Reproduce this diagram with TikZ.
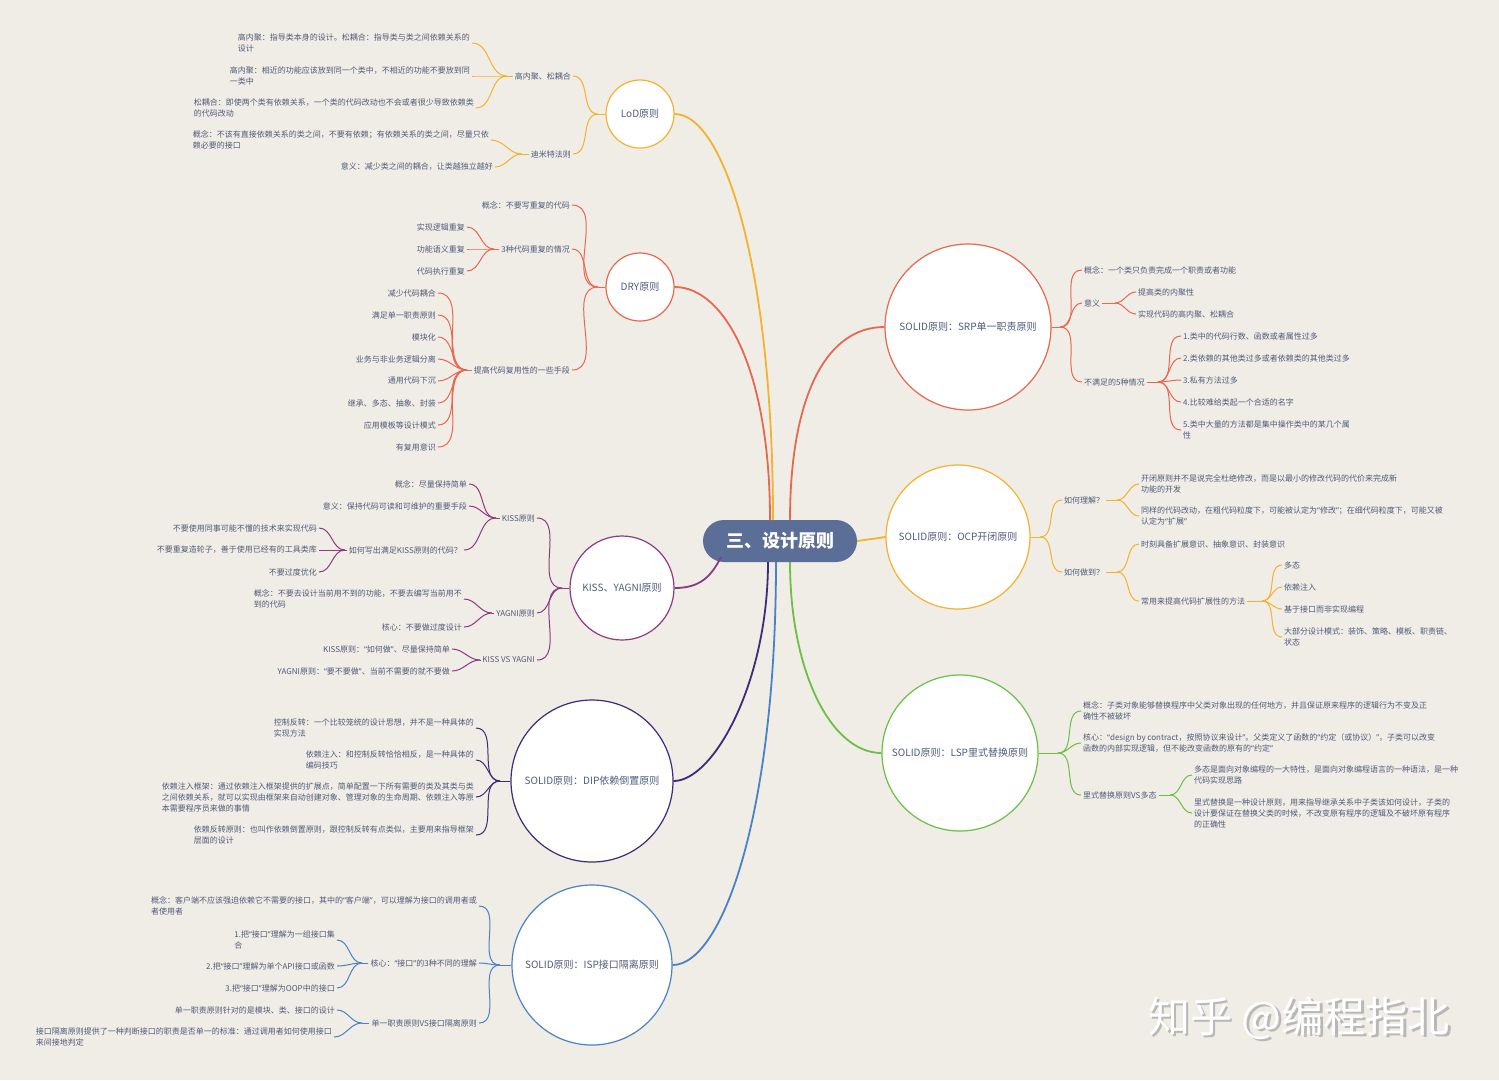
\documentclass[tikz,border=0pt]{standalone}
\usepackage{fontspec}
\setmainfont{Noto Sans CJK SC}
\newfontfamily\quotefont{Noto Sans}
\usetikzlibrary{calc}

\definecolor{bg}{HTML}{F0ECE6}
\definecolor{ink}{HTML}{505C7A}
\definecolor{rootblue}{HTML}{5B6E98}
\definecolor{cyel}{HTML}{F2B32E}
\definecolor{cred}{HTML}{E8674F}
\definecolor{cpur}{HTML}{8E3A80}
\definecolor{cdip}{HTML}{3D2B78}
\definecolor{cblu}{HTML}{4A82C6}
\definecolor{cgrn}{HTML}{6CBF45}

\newcommand{\cq}[1]{{\quotefont“}#1{\quotefont”}}

\tikzset{
  topic/.style={circle, draw=#1, fill=white, line width=1.2pt, text=ink, font=\fontsize{10}{12}\selectfont, inner sep=0pt},
  leaf/.style={text=ink, font=\fontsize{8}{11}\selectfont, inner sep=2pt, align=left},
  lleaf/.style={leaf, anchor=east},
  rleaf/.style={leaf, anchor=west},
  trunk/.style={draw=#1, line width=1.8pt},
  twig/.style={draw=#1, line width=1pt},
}

\begin{document}
\begin{tikzpicture}[x=1pt,y=1pt]
\fill[bg] (0,0) rectangle (1499,-1080);
\useasboundingbox (0,0) rectangle (1499,-1080);

\node[fill=rootblue, rounded corners=21pt, minimum width=154pt, minimum height=42pt, text=white, font=\fontsize{18}{20}\selectfont\bfseries] (root) at (780,-541) {三、设计原则};

\node[topic=cyel, minimum size=68pt] (lod) at (640,-114) {LoD原则};
\node[topic=cred, minimum size=68pt] (dry) at (640,-287) {DRY原则};
\node[topic=cpur, minimum size=104pt] (kiss) at (622,-588) {KISS、YAGNI原则};
\node[topic=cdip, minimum size=162pt] (dip) at (592,-781) {SOLID原则：DIP依赖倒置原则};
\node[topic=cblu, minimum size=160pt] (isp) at (592,-965) {SOLID原则：ISP接口隔离原则};
\node[topic=cred, minimum size=166pt] (srp) at (968,-327) {SOLID原则：SRP单一职责原则};
\node[topic=cyel, minimum size=144pt] (ocp) at (958,-537) {SOLID原则：OCP开闭原则};
\node[topic=cgrn, minimum size=156pt] (lsp) at (960,-753) {SOLID原则：LSP里式替换原则};

\draw[trunk=cyel] (773,-520) .. controls +(0,250) and +(50,0) .. (lod.east);
\draw[trunk=cred] (770,-520) .. controls +(0,150) and +(50,0) .. (dry.east);
\draw[trunk=cred] (790,-520) .. controls +(0,120) and +(-60,0) .. (srp.west);
\draw[trunk=cyel] (root.east) -- (ocp.west);
\draw[trunk=cpur] (721,-557) .. controls +(-10,-20) and +(25,0) .. (kiss.east);
\draw[trunk=cdip] (768,-562) .. controls +(0,-120) and +(40,0) .. (dip.east);
\draw[trunk=cblu] (776,-562) .. controls +(0,-250) and +(50,0) .. (isp.east);
\draw[trunk=cgrn] (790,-562) .. controls +(0,-110) and +(-50,0) .. (lsp.west);

% LoD
\node[lleaf] (lodA) at (573,-76) {高内聚、松耦合};
\node[lleaf] (lodB) at (573,-154) {迪米特法则};
\node[lleaf] (lodA1) at (472,-43) {高内聚：指导类本身的设计。松耦合：指导类与类之间依赖关系的\\设计};
\node[lleaf] (lodA2) at (472,-76) {高内聚：相近的功能应该放到同一个类中，不相近的功能不要放到同\\一类中};
\node[lleaf] (lodA3) at (476,-108) {松耦合：即使两个类有依赖关系，一个类的代码改动也不会或者很少导致依赖类\\的代码改动};
\node[lleaf] (lodB1) at (491,-140) {概念：不该有直接依赖关系的类之间，不要有依赖；有依赖关系的类之间，尽量只依\\赖必要的接口};
\node[lleaf] (lodB2) at (495,-167) {意义：减少类之间的耦合，让类越独立越好};
\coordinate (jlod) at (598,-114);
\coordinate (jlodA) at (507,-76);
\coordinate (jlodB) at (522,-154);
\draw[twig=cyel] (lod.west) -- (jlod);
\foreach \c in {lodA,lodB} \draw[twig=cyel] (jlod) to[out=180,in=0] (\c.east);
\draw[twig=cyel] (lodA.west) -- (jlodA);
\foreach \c in {lodA1,lodA2,lodA3} \draw[twig=cyel] (jlodA) to[out=180,in=0] (\c.east);
\draw[twig=cyel] (lodB.west) -- (jlodB);
\foreach \c in {lodB1,lodB2} \draw[twig=cyel] (jlodB) to[out=180,in=0] (\c.east);

% DRY
\node[lleaf] (dryA) at (572,-205) {概念：不要写重复的代码};
\node[lleaf] (dryB) at (572,-249) {3种代码重复的情况};
\node[lleaf] (dryC) at (572,-370) {提高代码复用性的一些手段};
\node[lleaf] (dryB1) at (467,-227) {实现逻辑重复};
\node[lleaf] (dryB2) at (467,-249) {功能语义重复};
\node[lleaf] (dryB3) at (467,-271) {代码执行重复};
\foreach \t [count=\i] in {减少代码耦合,满足单一职责原则,模块化,业务与非业务逻辑分离,通用代码下沉,继承、多态、抽象、封装,应用模板等设计模式,有复用意识}
  \node[lleaf] (dryC\i) at (438,-271-22*\i) {\t};
\coordinate (jdry) at (598,-287);
\coordinate (jdryB) at (494,-249);
\coordinate (jdryC) at (467,-370);
\draw[twig=cred] (dry.west) -- (jdry);
\foreach \c in {dryA,dryB,dryC} \draw[twig=cred] (jdry) to[out=180,in=0] (\c.east);
\draw[twig=cred] (dryB.west) -- (jdryB);
\foreach \c in {dryB1,dryB2,dryB3} \draw[twig=cred] (jdryB) to[out=180,in=0] (\c.east);
\draw[twig=cred] (dryC.west) -- (jdryC);
\foreach \i in {1,...,8} \draw[twig=cred] (jdryC) to[out=180,in=0] (dryC\i.east);

% KISS, YAGNI
\node[lleaf] (kissA) at (537,-518) {KISS原则};
\node[lleaf] (kissB) at (537,-613) {YAGNI原则};
\node[lleaf] (kissC) at (537,-660) {KISS VS YAGNI};
\node[lleaf] (kissA1) at (469,-484) {概念：尽量保持简单};
\node[lleaf] (kissA2) at (469,-506) {意义：保持代码可读和可维护的重要手段};
\node[lleaf] (kissA3) at (464,-550) {如何写出满足KISS原则的代码？};
\node[lleaf] (kissA31) at (319,-528) {不要使用同事可能不懂的技术来实现代码};
\node[lleaf] (kissA32) at (319,-550) {不要重复造轮子，善于使用已经有的工具类库};
\node[lleaf] (kissA33) at (319,-572) {不要过度优化};
\node[lleaf] (kissB1) at (464,-599) {概念：不要去设计当前用不到的功能，不要去编写当前用不\\到的代码};
\node[lleaf] (kissB2) at (464,-627) {核心：不要做过度设计};
\node[lleaf] (kissC1) at (452,-649) {KISS原则：\cq{如何做}、尽量保持简单};
\node[lleaf] (kissC2) at (452,-671) {YAGNI原则：\cq{要不要做}、当前不需要的就不要做};
\coordinate (jkiss) at (562,-588);
\coordinate (jkissA) at (496,-518);
\coordinate (jkissA3) at (345,-550);
\coordinate (jkissB) at (492,-613);
\coordinate (jkissC) at (480,-660);
\draw[twig=cpur] (kiss.west) -- (jkiss);
\foreach \c in {kissA,kissB,kissC} \draw[twig=cpur] (jkiss) to[out=180,in=0] (\c.east);
\draw[twig=cpur] (kissA.west) -- (jkissA);
\foreach \c in {kissA1,kissA2,kissA3} \draw[twig=cpur] (jkissA) to[out=180,in=0] (\c.east);
\draw[twig=cpur] (kissA3.west) -- (jkissA3);
\foreach \c in {kissA31,kissA32,kissA33} \draw[twig=cpur] (jkissA3) to[out=180,in=0] (\c.east);
\draw[twig=cpur] (kissB.west) -- (jkissB);
\foreach \c in {kissB1,kissB2} \draw[twig=cpur] (jkissB) to[out=180,in=0] (\c.east);
\draw[twig=cpur] (kissC.west) -- (jkissC);
\foreach \c in {kissC1,kissC2} \draw[twig=cpur] (jkissC) to[out=180,in=0] (\c.east);

% DIP
\node[lleaf] (dip1) at (476,-728) {控制反转：一个比较笼统的设计思想，并不是一种具体的\\实现方法};
\node[lleaf] (dip2) at (476,-760) {依赖注入：和控制反转恰恰相反，是一种具体的\\编码技巧};
\node[lleaf] (dip3) at (476,-797) {依赖注入框架：通过依赖注入框架提供的扩展点，简单配置一下所有需要的类及其类与类\\之间依赖关系，就可以实现由框架来自动创建对象、管理对象的生命周期、依赖注入等原\\本需要程序员来做的事情};
\node[lleaf] (dip4) at (476,-835) {依赖反转原则：也叫作依赖倒置原则，跟控制反转有点类似，主要用来指导框架\\层面的设计};
\coordinate (jdip) at (500,-781);
\draw[twig=cdip] (dip.west) -- (jdip);
\foreach \c in {dip1,dip2,dip3,dip4} \draw[twig=cdip] (jdip) to[out=180,in=0] (\c.east);

% ISP
\node[lleaf] (isp1) at (479,-906) {概念：客户端不应该强迫依赖它不需要的接口，其中的\cq{客户端}，可以理解为接口的调用者或\\者使用者};
\node[lleaf] (isp2) at (479,-963) {核心：\cq{接口}的3种不同的理解};
\node[lleaf] (isp3) at (479,-1023) {单一职责原则VS接口隔离原则};
\node[lleaf] (isp21) at (337,-940) {1.把\cq{接口}理解为一组接口集\\合};
\node[lleaf] (isp22) at (337,-966) {2.把\cq{接口}理解为单个API接口或函数};
\node[lleaf] (isp23) at (337,-988) {3.把\cq{接口}理解为OOP中的接口};
\node[lleaf] (isp31) at (337,-1010) {单一职责原则针对的是模块、类、接口的设计};
\node[lleaf] (isp32) at (334,-1037) {接口隔离原则提供了一种判断接口的职责是否单一的标准：通过调用者如何使用接口\\来间接地判定};
\coordinate (jisp) at (500,-965);
\coordinate (jisp2) at (362,-963);
\coordinate (jisp3) at (362,-1023);
\draw[twig=cblu] (isp.west) -- (jisp);
\foreach \c in {isp1,isp2,isp3} \draw[twig=cblu] (jisp) to[out=180,in=0] (\c.east);
\draw[twig=cblu] (isp2.west) -- (jisp2);
\foreach \c in {isp21,isp22,isp23} \draw[twig=cblu] (jisp2) to[out=180,in=0] (\c.east);
\draw[twig=cblu] (isp3.west) -- (jisp3);
\foreach \c in {isp31,isp32} \draw[twig=cblu] (jisp3) to[out=180,in=0] (\c.east);

% SRP
\node[rleaf] (srp1) at (1082,-270) {概念：一个类只负责完成一个职责或者功能};
\node[rleaf] (srp2) at (1082,-303) {意义};
\node[rleaf] (srp3) at (1082,-382) {不满足的5种情况};
\node[rleaf] (srp21) at (1136,-292) {提高类的内聚性};
\node[rleaf] (srp22) at (1136,-314) {实现代码的高内聚、松耦合};
\node[rleaf] (srp31) at (1181,-336) {1.类中的代码行数、函数或者属性过多};
\node[rleaf] (srp32) at (1181,-358) {2.类依赖的其他类过多或者依赖类的其他类过多};
\node[rleaf] (srp33) at (1181,-380) {3.私有方法过多};
\node[rleaf] (srp34) at (1181,-402) {4.比较难给类起一个合适的名字};
\node[rleaf] (srp35) at (1181,-430) {5.类中大量的方法都是集中操作类中的某几个属\\性};
\coordinate (jsrp) at (1060,-327);
\coordinate (jsrp2) at (1115,-303);
\coordinate (jsrp3) at (1158,-382);
\draw[twig=cred] (srp.east) -- (jsrp);
\foreach \c in {srp1,srp2,srp3} \draw[twig=cred] (jsrp) to[out=0,in=180] (\c.west);
\draw[twig=cred] (srp2.east) -- (jsrp2);
\foreach \c in {srp21,srp22} \draw[twig=cred] (jsrp2) to[out=0,in=180] (\c.west);
\draw[twig=cred] (srp3.east) -- (jsrp3);
\foreach \c in {srp31,srp32,srp33,srp34,srp35} \draw[twig=cred] (jsrp3) to[out=0,in=180] (\c.west);

% OCP
\node[rleaf] (ocp1) at (1062,-500) {如何理解？};
\node[rleaf] (ocp2) at (1062,-572) {如何做到？};
\node[rleaf] (ocp11) at (1139,-484) {开闭原则并不是说完全杜绝修改，而是以最小的修改代码的代价来完成新\\功能的开发};
\node[rleaf] (ocp12) at (1139,-516) {同样的代码改动，在粗代码粒度下，可能被认定为\cq{修改}；在细代码粒度下，可能又被\\认定为\cq{扩展}};
\node[rleaf] (ocp21) at (1139,-544) {时刻具备扩展意识、抽象意识、封装意识};
\node[rleaf] (ocp22) at (1139,-601) {常用来提高代码扩展性的方法};
\node[rleaf] (ocp221) at (1282,-565) {多态};
\node[rleaf] (ocp222) at (1282,-587) {依赖注入};
\node[rleaf] (ocp223) at (1282,-609) {基于接口而非实现编程};
\node[rleaf] (ocp224) at (1282,-637) {大部分设计模式：装饰、策略、模板、职责链、\\状态};
\coordinate (jocp) at (1040,-537);
\coordinate (jocp1) at (1117,-500);
\coordinate (jocp2) at (1117,-572);
\coordinate (jocp22) at (1262,-601);
\draw[twig=cyel] (ocp.east) -- (jocp);
\foreach \c in {ocp1,ocp2} \draw[twig=cyel] (jocp) to[out=0,in=180] (\c.west);
\draw[twig=cyel] (ocp1.east) -- (jocp1);
\foreach \c in {ocp11,ocp12} \draw[twig=cyel] (jocp1) to[out=0,in=180] (\c.west);
\draw[twig=cyel] (ocp2.east) -- (jocp2);
\foreach \c in {ocp21,ocp22} \draw[twig=cyel] (jocp2) to[out=0,in=180] (\c.west);
\draw[twig=cyel] (ocp22.east) -- (jocp22);
\foreach \c in {ocp221,ocp222,ocp223,ocp224} \draw[twig=cyel] (jocp22) to[out=0,in=180] (\c.west);

% LSP
\node[rleaf] (lsp1) at (1081,-711) {概念：子类对象能够替换程序中父类对象出现的任何地方，并且保证原来程序的逻辑行为不变及正\\确性不被破坏};
\node[rleaf] (lsp2) at (1081,-743) {核心：\cq{design by contract，按照协议来设计}。父类定义了函数的\cq{约定（或协议）}，子类可以改变\\函数的内部实现逻辑，但不能改变函数的原有的\cq{约定}};
\node[rleaf] (lsp3) at (1081,-795) {里式替换原则VS多态};
\node[rleaf] (lsp31) at (1192,-775) {多态是面向对象编程的一大特性，是面向对象编程语言的一种语法，是一种\\代码实现思路};
\node[rleaf] (lsp32) at (1192,-813) {里式替换是一种设计原则，用来指导继承关系中子类该如何设计，子类的\\设计要保证在替换父类的时候，不改变原有程序的逻辑及不破坏原有程序\\的正确性};
\coordinate (jlsp) at (1058,-753);
\coordinate (jlsp3) at (1170,-795);
\draw[twig=cgrn] (lsp.east) -- (jlsp);
\foreach \c in {lsp1,lsp2,lsp3} \draw[twig=cgrn] (jlsp) to[out=0,in=180] (\c.west);
\draw[twig=cgrn] (lsp3.east) -- (jlsp3);
\foreach \c in {lsp31,lsp32} \draw[twig=cgrn] (jlsp3) to[out=0,in=180] (\c.west);

% watermark
\node[text=black!28, font=\fontsize{42}{46}\selectfont] (markshadow) at (1301.5,-1020.5) {知乎 @编程指北};
\node[text=white, font=\fontsize{42}{46}\selectfont] (mark) at (1299,-1018) {知乎 @编程指北};
\end{tikzpicture}
\end{document}
